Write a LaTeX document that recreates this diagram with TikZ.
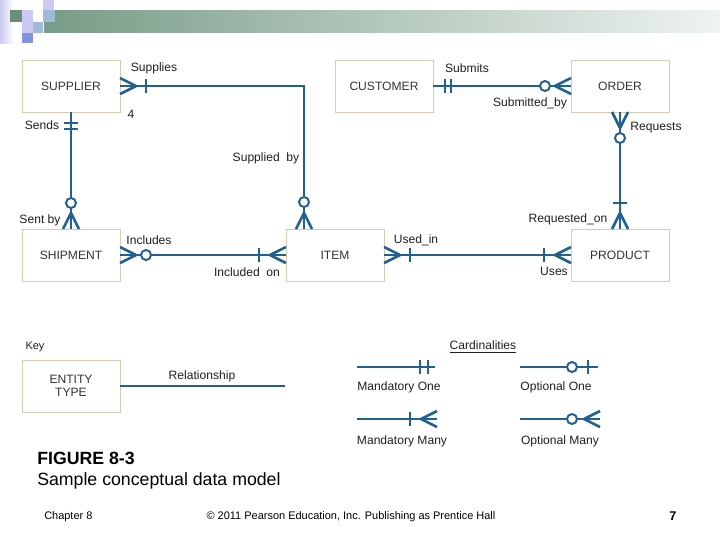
\documentclass[tikz,border=0pt]{standalone}
\usepackage{fontspec}
\setmainfont{Liberation Sans}
\usepackage{xcolor}
\usepackage{tikz}
\usetikzlibrary{calc}
\definecolor{relblue}{HTML}{21608F}
\definecolor{entline}{HTML}{D8CBB2}
\definecolor{hgreen}{HTML}{789C87}
\definecolor{sqlav}{HTML}{CACAF2}
\definecolor{sqblue}{HTML}{9DBAD6}
\newcommand{\lblfont}{\fontsize{8.6}{10}\selectfont}
\newcommand{\capfont}{\fontsize{12.6}{15}\selectfont}
\newcommand{\footfont}{\fontsize{7.8}{9}\selectfont}

\begin{document}
\begin{tikzpicture}[x=0.025cm, y=-0.025cm, font=\lblfont, text=black!88,
  ent/.style={draw=entline, line width=0.6pt, minimum width=2.45cm, minimum height=1.3cm, inner sep=0pt, outer sep=0pt, text=black!80},
  rel/.style={draw=relblue, line width=1.9pt},
  lab/.style={inner sep=1pt},
  crow/.pic={\draw[rel, line join=round] (0,-8) -- (16,0) -- (0,8);},
  onebar/.pic={\draw[rel] (#1,-7) -- (#1,7);},
  ring/.pic={\draw[rel, line width=1.4pt, fill=white] (#1,0) circle (5);}]
\useasboundingbox (0,0) rectangle (720,540);
% header band
\shade[left color=hgreen, right color=hgreen!12] (44,10) rectangle (720,32);
\shade[left color=sqlav, right color=white] (0,0) rectangle (14,43);
\fill[sqlav] (43,0) rectangle (54,10); \fill[hgreen!90!black] (10,10) rectangle (22,22);
\fill[sqlav] (22,10) rectangle (33,22); \fill[sqblue] (43,10) rectangle (55,22);
\fill[sqlav] (22,22) rectangle (33,33); \fill[sqblue] (33,22) rectangle (43,33);
\fill[sqblue!80!blue] (22,33) rectangle (33,43);
% entities
\node[ent] (sup) at (71,86) {SUPPLIER}; \node[ent] (cust) at (384,86) {CUSTOMER}; \node[ent] (ord) at (620,86) {ORDER};
\node[ent] (ship) at (71,255) {SHIPMENT}; \node[ent] (item) at (335,255) {ITEM}; \node[ent] (prod) at (620,255) {PRODUCT};
\coordinate (itop) at ($(item.north west)+(18,0)$);
% relationships
\draw[rel] (sup.east) -| (itop); \draw[rel] (sup.south) -- (ship.north);
\draw[rel] (cust.east) -- (ord.west); \draw[rel] (ord.south) -- (prod.north);
\draw[rel] (ship.east) -- (item.west); \draw[rel] (item.east) -- (prod.west);
% ends
\pic at (sup.east) {crow}; \pic at (sup.east) {onebar=26};
\pic[rotate=90] at (itop) {crow}; \pic[rotate=90] at (itop) {ring=27};
\pic[rotate=-90] at (sup.south) {onebar=11}; \pic[rotate=-90] at (sup.south) {onebar=17};
\pic[rotate=90] at (ship.north) {crow}; \pic[rotate=90] at (ship.north) {ring=26};
\pic at (cust.east) {onebar=12}; \pic at (cust.east) {onebar=18};
\pic[rotate=180] at (ord.west) {crow}; \pic[rotate=180] at (ord.west) {ring=26};
\pic[rotate=-90] at (ord.south) {crow}; \pic[rotate=-90] at (ord.south) {ring=26};
\pic[rotate=90] at (prod.north) {crow}; \pic[rotate=90] at (prod.north) {onebar=26};
\pic at (ship.east) {crow}; \pic at (ship.east) {ring=26};
\pic[rotate=180] at (item.west) {crow}; \pic[rotate=180] at (item.west) {onebar=27};
\pic at (item.east) {crow}; \pic at (item.east) {onebar=26};
\pic[rotate=180] at (prod.west) {crow}; \pic[rotate=180] at (prod.west) {onebar=27};
% relationship labels
\node[lab] (lsupplies) at (154,68) {Supplies}; \node[lab] (lfour) at (131,114) {4};
\node[lab] (lsuppliedby) at (266,158) {Supplied\ \ by};
\node[lab] (lsends) at (42,125) {Sends}; \node[lab] (lsentby) at (40,220) {Sent\ by};
\node[lab] (lsubmits) at (467,68) {Submits}; \node[lab] (lsubmittedby) at (530,103) {Submitted\_by};
\node[lab] (lrequests) at (656,128) {Requests}; \node[lab] (lrequestedon) at (568,219) {Requested\_on};
\node[lab] (lincludes) at (149,240) {Includes}; \node[lab] (lincludedon) at (247,272) {Included\ \ on};
\node[lab] (lusedin) at (416,240) {Used\_in}; \node[lab] (luses) at (554,271) {Uses};
% key
\node[lab, font=\fontsize{7.8}{9}\selectfont] (keyhead) at (35,347) {Key};
\node[ent, align=center, font=\fontsize{8.6}{9.6}\selectfont] (keyent) at (71,386) {ENTITY\\TYPE};
\coordinate (keyend) at (285,386);
\draw[rel, line width=1.1pt] (keyent.east) -- (keyend);
\node[lab] (lrelationship) at (202,376) {Relationship};
% cardinalities
\node[lab] (cardhead) at (483,347) {\underline{Cardinalities}};
\coordinate (mo1) at (357,367); \coordinate (mo2) at (435,367);
\coordinate (oo1) at (520,367); \coordinate (oo2) at (598,367);
\coordinate (mm1) at (357,419); \coordinate (mm2) at (437,419);
\coordinate (om1) at (520,419); \coordinate (om2) at (600,419);
\draw[rel] (mo1) -- (mo2); \pic[rotate=180] at (mo2) {onebar=7}; \pic[rotate=180] at (mo2) {onebar=15};
\draw[rel] (oo1) -- (oo2); \pic[rotate=180] at (oo2) {onebar=10}; \pic[rotate=180] at (oo2) {ring=26};
\draw[rel] (mm1) -- (mm2); \pic[rotate=180] at (mm2) {crow}; \pic[rotate=180] at (mm2) {onebar=27};
\draw[rel] (om1) -- (om2); \pic[rotate=180] at (om2) {crow}; \pic[rotate=180] at (om2) {ring=28};
\node[lab] (lmone) at (399,387) {Mandatory One}; \node[lab] (loone) at (556,387) {Optional One};
\node[lab] (lmmany) at (402,441) {Mandatory Many}; \node[lab] (lomany) at (560,441) {Optional Many};
% caption and footer
\node[anchor=west, inner sep=0pt, text=black, font=\capfont\bfseries] (figno) at (37,458) {FIGURE 8-3};
\node[anchor=west, inner sep=0pt, text=black, font=\capfont] (figtitle) at (37,481) {Sample conceptual data model};
\node[anchor=west, inner sep=0pt, text=black, font=\footfont] (chap) at (44,517) {Chapter 8};
\node[inner sep=0pt, text=black, font=\footfont] (copy) at (351,517) {© 2011 Pearson Education, Inc. Publishing as Prentice Hall};
\node[inner sep=0pt, text=black, font=\fontsize{9}{10}\selectfont\bfseries] (pageno) at (673,516) {7};
\end{tikzpicture}
\end{document}
